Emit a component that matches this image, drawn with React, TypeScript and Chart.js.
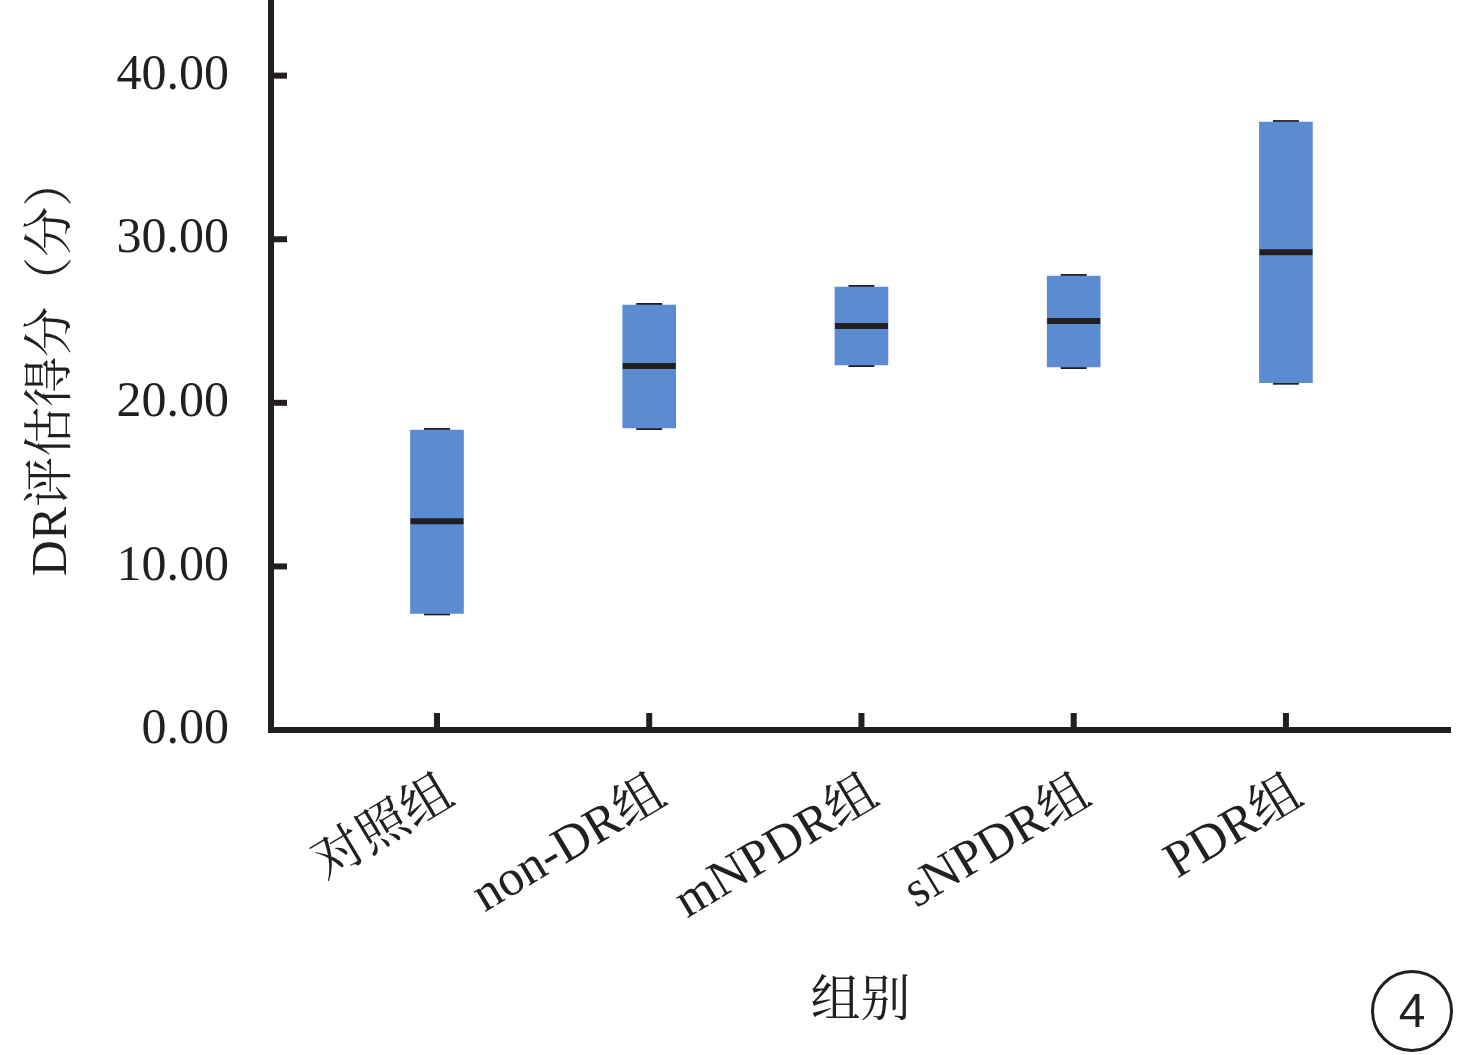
import React, { useEffect, useRef } from 'react';
import { Chart, registerables } from 'chart.js';

Chart.register(...registerables);

const categories = ['对照组', 'non-DR组', 'mNPDR组', 'sNPDR组', 'PDR组'];
const minValues = [7.13, 18.46, 22.31, 22.19, 21.23];
const maxValues = [18.34, 25.98, 27.08, 27.75, 37.16];
const medianValues = [12.76, 22.25, 24.69, 25.0, 29.2];
const yTicks = [0, 10, 20, 30, 40];
const yTitle = 'DR评估得分（分）';
const xTitle = '组别';
const panelTag = '4';

const AXIS = '#231f20';
const BOX = '#5b8bd0';
const SERIF = "'Liberation Serif', 'Noto Serif CJK SC', 'Noto Sans CJK SC', serif";

const inwardTicks = {
  id: 'inwardTicks',
  afterDraw(chart: any) {
    const { ctx, chartArea, scales } = chart;
    const x = scales.x;
    const y = scales.y;
    ctx.save();
    ctx.strokeStyle = AXIS;
    ctx.lineWidth = 6;
    y.ticks.forEach((t: any) => {
      const py = y.getPixelForValue(t.value);
      ctx.beginPath();
      ctx.moveTo(chartArea.left, py);
      ctx.lineTo(chartArea.left + 16, py);
      ctx.stroke();
    });
    x.ticks.forEach((t: any) => {
      const px = x.getPixelForValue(t.value);
      ctx.beginPath();
      ctx.moveTo(px, chartArea.bottom);
      ctx.lineTo(px, chartArea.bottom - 17);
      ctx.stroke();
    });
    ctx.restore();
  },
};

const resetPadding = (scale: any) => {
  scale.paddingLeft = 0;
  scale.paddingRight = 0;
  scale.paddingTop = 0;
  scale.paddingBottom = 0;
};

export default function App() {
  const ref = useRef<HTMLCanvasElement | null>(null);

  useEffect(() => {
    if (!ref.current) return;
    const idx = categories.map((_, i) => i);
    const chart = new Chart(ref.current, {
      type: 'bar',
      data: {
        datasets: [
          {
            type: 'bar',
            label: 'range',
            data: idx.map((i) => ({ x: i, y: [minValues[i], maxValues[i]] })) as any,
            backgroundColor: BOX,
            borderWidth: 0,
            barThickness: 53,
            order: 2,
          } as any,
          {
            type: 'scatter',
            label: 'caps',
            data: idx.flatMap((i) => [
              { x: i, y: minValues[i] },
              { x: i, y: maxValues[i] },
            ]),
            pointStyle: 'line',
            pointRadius: 13,
            borderColor: AXIS,
            borderWidth: 4,
            backgroundColor: AXIS,
            showLine: false,
            order: 3,
          } as any,
          {
            type: 'scatter',
            label: 'median',
            data: idx.map((i) => ({ x: i, y: medianValues[i] })),
            pointStyle: 'line',
            pointRadius: 26.5,
            borderColor: AXIS,
            borderWidth: 6,
            backgroundColor: AXIS,
            showLine: false,
            order: 1,
          } as any,
        ],
      },
      options: {
        animation: false,
        responsive: false,
        devicePixelRatio: 1,
        layout: { autoPadding: false, padding: { top: 3, right: 26, left: 0, bottom: 0 } },
        plugins: { legend: { display: false }, tooltip: { enabled: false } },
        scales: {
          x: {
            type: 'linear',
            offset: false,
            min: -0.782,
            max: 4.773,
            grid: { display: false, drawTicks: false, offset: false },
            border: { display: true, color: AXIS, width: 6 },
            afterBuildTicks: (scale: any) => {
              scale.ticks = idx.map((i) => ({ value: i }));
            },
            afterFit: (scale: any) => {
              scale.height = 325;
              resetPadding(scale);
            },
            ticks: {
              autoSkip: false,
              minRotation: 31,
              maxRotation: 31,
              padding: 58,
              labelOffset: 13,
              color: AXIS,
              font: { family: SERIF, size: 51, lineHeight: 0.1 },
              callback: (v: any) => categories[v] ?? '',
            },
            title: {
              display: true,
              text: xTitle,
              color: AXIS,
              font: { family: SERIF, size: 50 },
              padding: { top: 0, bottom: 22 },
            },
          },
          y: {
            type: 'linear',
            min: 0,
            max: 44.44,
            grid: { display: false, drawTicks: false },
            border: { display: true, color: AXIS, width: 6 },
            afterBuildTicks: (scale: any) => {
              scale.ticks = yTicks.map((v) => ({ value: v }));
            },
            afterFit: (scale: any) => {
              scale.width = 271;
              resetPadding(scale);
            },
            ticks: {
              padding: 42,
              color: AXIS,
              font: { family: SERIF, size: 50, lineHeight: 0.1 },
              callback: (v: any) => Number(v).toFixed(2),
            },
            title: {
              display: true,
              text: yTitle,
              color: AXIS,
              font: { family: SERIF, size: 50 },
              padding: { top: 23, bottom: 0 },
            },
          },
        },
      },
      plugins: [inwardTicks],
    } as any);
    return () => chart.destroy();
  }, []);

  return (
    <div style={{ position: 'absolute', left: 0, top: 0, width: 1476, height: 1055, background: '#fff' }}>
      <canvas ref={ref} width={1476} height={1055} style={{ display: 'block', width: 1476, height: 1055 }} />
      <div
        style={{
          position: 'absolute',
          left: 1371,
          top: 970,
          width: 76,
          height: 76,
          border: `3px solid ${AXIS}`,
          borderRadius: '50%',
          display: 'flex',
          alignItems: 'center',
          justifyContent: 'center',
          fontFamily: "'Liberation Sans', Arial, sans-serif",
          fontSize: 48,
          lineHeight: 1,
          color: AXIS,
        }}
      >
        {panelTag}
      </div>
    </div>
  );
}
